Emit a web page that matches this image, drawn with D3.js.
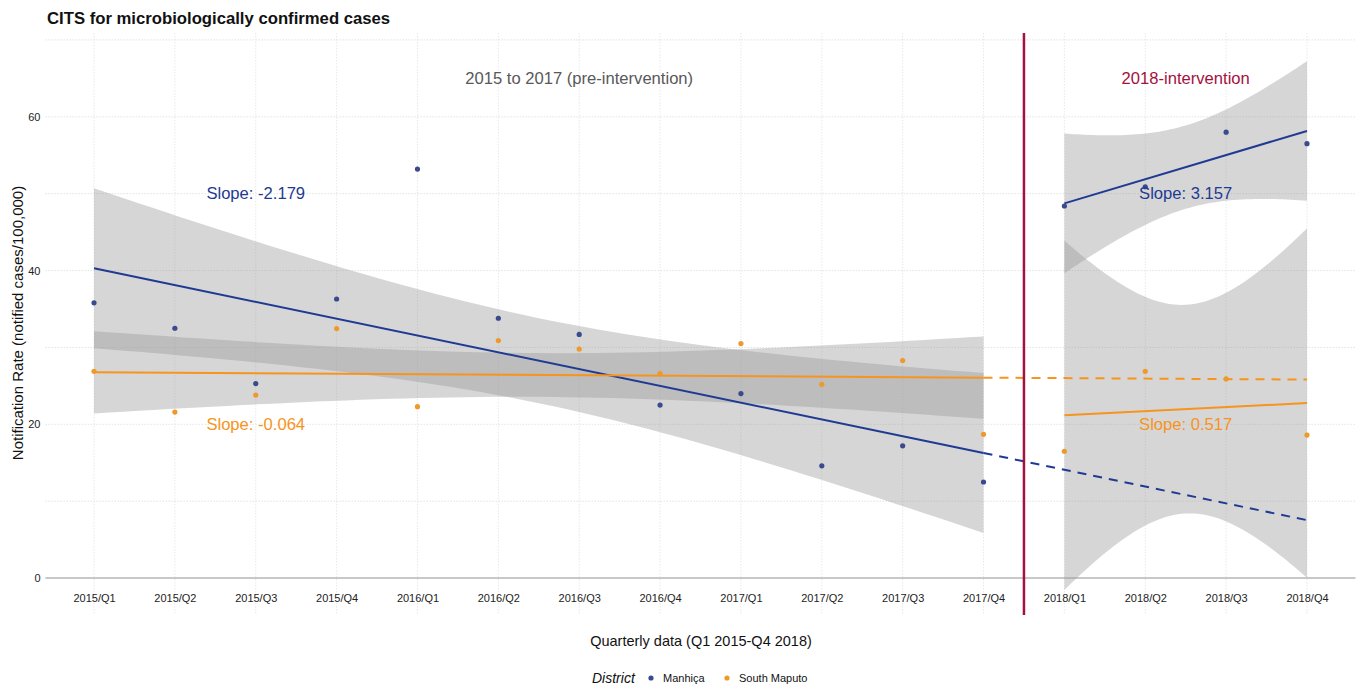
<!DOCTYPE html>
<html>
<head>
<meta charset="utf-8">
<script src="https://cdn.jsdelivr.net/npm/d3@7"></script>
<style>
  html, body { margin: 0; padding: 0; background: #fff; }
  svg { display: block; font-family: "Liberation Sans", Arial, Helvetica, sans-serif; }
</style>
</head>
<body>
<svg id="chart" width="1359" height="685"></svg>
<script>
// ---------- Data ----------
const quarters = ["2015/Q1","2015/Q2","2015/Q3","2015/Q4","2016/Q1","2016/Q2","2016/Q3","2016/Q4",
                  "2017/Q1","2017/Q2","2017/Q3","2017/Q4","2018/Q1","2018/Q2","2018/Q3","2018/Q4"];
const manhica     = [35.8, 32.5, 25.3, 36.3, 53.2, 33.8, 31.7, 22.5, 24.0, 14.6, 17.2, 12.5, 48.4, 50.9, 58.0, 56.5];
const southMaputo = [26.9, 21.6, 23.8, 32.45, 22.3, 30.9, 29.8, 26.6, 30.5, 25.2, 28.3, 18.7, 16.5, 26.9, 25.9, 18.6];
const districts = ["Manhiça", "South Maputo"];
const preSlopes  = [-2.179, -0.064];
const postSlopes = [3.157, 0.517];
const yTicks = [0, 20, 40, 60];
const yMinor = [10, 30, 50, 70];
const preEnd = 11;          // last pre-intervention index
const lineColors  = ["#1F3A93", "#F7941D"];
const pointColors = ["#3A4A8C", "#EE9A2A"];

// ---------- Layout ----------
const svg = d3.select("#chart");
const panel = {left: 45.5, right: 1355.5, top: 33, bottom: 615};

const x = d3.scalePoint().domain(quarters).range([panel.left, panel.right]).padding(0.6);
const xi = i => x(quarters[0]) + i * x.step();
const y = d3.scaleLinear().domain([-4.8, 70.9]).range([panel.bottom, panel.top]);

// ---------- Regression helpers (like geom_smooth(method = "lm")) ----------
const tTable = {1: 12.706, 2: 4.303, 3: 3.182, 4: 2.776, 5: 2.571, 6: 2.447, 7: 2.365, 8: 2.306, 9: 2.262, 10: 2.228};
function fitLM(xs, ys) {
  const n = xs.length, mx = d3.mean(xs), my = d3.mean(ys);
  let sxx = 0, sxy = 0;
  xs.forEach((v, k) => { sxx += (v - mx) ** 2; sxy += (v - mx) * (ys[k] - my); });
  const b = sxy / sxx, a = my - b * mx;
  let sse = 0;
  xs.forEach((v, k) => { sse += (ys[k] - (a + b * v)) ** 2; });
  const s = Math.sqrt(sse / (n - 2));
  const t = tTable[n - 2];
  return {a, b, pred: v => a + b * v,
          half: v => t * s * Math.sqrt(1 / n + (v - mx) ** 2 / sxx), x0: d3.min(xs), x1: d3.max(xs)};
}

const series = [manhica, southMaputo];
const preIdx = d3.range(0, preEnd + 1);
const postIdx = d3.range(preEnd + 1, quarters.length);
const fits = series.map(s => ({
  pre: fitLM(preIdx, preIdx.map(i => s[i])),
  post: fitLM(postIdx, postIdx.map(i => s[i]))
}));

// ---------- Grid ----------
const grid = svg.append("g");
grid.selectAll("line.h").data(yTicks.concat(yMinor)).join("line")
  .attr("x1", panel.left).attr("x2", panel.right)
  .attr("y1", d => y(d)).attr("y2", d => y(d))
  .attr("stroke", "#dcdcdc").attr("stroke-width", 0.8).attr("stroke-dasharray", "1.5,1.5");
grid.selectAll("line.v").data(quarters).join("line")
  .attr("x1", d => x(d)).attr("x2", d => x(d))
  .attr("y1", panel.top).attr("y2", panel.bottom)
  .attr("stroke", "#e2e2e2").attr("stroke-width", 0.8).attr("stroke-dasharray", "1.5,1.5");

// zero line
svg.append("line")
  .attr("x1", panel.left).attr("x2", panel.right)
  .attr("y1", y(0)).attr("y2", y(0))
  .attr("stroke", "#c8c8c8").attr("stroke-width", 2);

// ---------- Confidence bands ----------
const bandArea = d3.area().x(d => xi(d.v)).y0(d => y(d.lo)).y1(d => y(d.hi));
function bandData(f) {
  return d3.range(0, 61).map(k => {
    const v = f.x0 + (f.x1 - f.x0) * k / 60;
    return {v, lo: f.pred(v) - f.half(v), hi: f.pred(v) + f.half(v)};
  });
}
const bands = svg.append("g");
fits.forEach(f => {
  ["pre", "post"].forEach(seg => {
    bands.append("path").datum(bandData(f[seg])).attr("d", bandArea)
      .attr("fill", "#999999").attr("fill-opacity", 0.4);
  });
});

// ---------- Fit lines ----------
fits.forEach((f, si) => {
  ["pre", "post"].forEach(seg => {
    const m = f[seg];
    svg.append("line")
      .attr("x1", xi(m.x0)).attr("x2", xi(m.x1))
      .attr("y1", y(m.pred(m.x0))).attr("y2", y(m.pred(m.x1)))
      .attr("stroke", lineColors[si]).attr("stroke-width", 2);
  });
  // counterfactual extension of the pre-intervention trend
  const m = f.pre, last = quarters.length - 1;
  svg.append("line")
    .attr("x1", xi(preEnd)).attr("x2", xi(last))
    .attr("y1", y(m.pred(preEnd))).attr("y2", y(m.pred(last)))
    .attr("stroke", lineColors[si]).attr("stroke-width", 2)
    .attr("stroke-dasharray", "9,7");
});

// ---------- Intervention line ----------
svg.append("line")
  .attr("x1", xi(preEnd + 0.5)).attr("x2", xi(preEnd + 0.5))
  .attr("y1", panel.top).attr("y2", panel.bottom)
  .attr("stroke", "#A3123F").attr("stroke-width", 2.5);

// ---------- Points ----------
series.forEach((s, si) => {
  svg.append("g").selectAll("circle").data(s).join("circle")
    .attr("cx", (d, i) => x(quarters[i])).attr("cy", d => y(d))
    .attr("r", 2.6).attr("fill", pointColors[si]);
});

// ---------- Annotations ----------
const ann = svg.append("g").attr("font-size", 16.6).attr("text-anchor", "middle").attr("dominant-baseline", "central");
ann.append("text").attr("x", xi(6)).attr("y", y(65)).attr("fill", "#595959").text("2015 to 2017 (pre-intervention)");
ann.append("text").attr("x", xi(13.5)).attr("y", y(65)).attr("fill", "#A3123F").text("2018-intervention");
const slopeY = [50, 20];
preSlopes.forEach((v, si) => {
  ann.append("text").attr("x", xi(2)).attr("y", y(slopeY[si])).attr("fill", lineColors[si])
    .text("Slope: " + v.toFixed(3));
});
postSlopes.forEach((v, si) => {
  ann.append("text").attr("x", xi(13.5)).attr("y", y(slopeY[si])).attr("fill", lineColors[si])
    .text("Slope: " + v.toFixed(3));
});

// ---------- Axes ----------
const xAxis = svg.append("g").attr("transform", `translate(0, ${panel.bottom - 24})`)
  .call(d3.axisBottom(x).tickSize(0).tickPadding(3));
xAxis.select(".domain").remove();
xAxis.selectAll("text").attr("font-size", 11).attr("fill", "#222")
  .attr("font-family", "'Liberation Sans', Arial, sans-serif");

const yAxis = svg.append("g").attr("transform", `translate(${panel.left - 3}, 0)`)
  .call(d3.axisLeft(y).tickValues(yTicks).tickSize(0).tickPadding(2));
yAxis.select(".domain").remove();
yAxis.selectAll("text").attr("font-size", 11).attr("fill", "#222")
  .attr("font-family", "'Liberation Sans', Arial, sans-serif");

svg.append("text").attr("x", 701).attr("y", 646)
  .attr("text-anchor", "middle").attr("font-size", 14.5).attr("fill", "#111")
  .text("Quarterly data (Q1 2015-Q4 2018)");
svg.append("text").attr("transform", `translate(23, 323) rotate(-90)`)
  .attr("text-anchor", "middle").attr("font-size", 15).attr("fill", "#111")
  .text("Notification Rate (notified cases/100,000)");

// ---------- Title ----------
svg.append("text").attr("x", 47).attr("y", 24).attr("font-size", 16.7).attr("font-weight", "bold")
  .attr("fill", "#111").text("CITS for microbiologically confirmed cases");

// ---------- Legend ----------
const lg = svg.append("g").attr("transform", "translate(0, 678)");
lg.append("text").attr("x", 592).attr("y", 5).attr("font-size", 14).attr("font-style", "italic")
  .attr("fill", "#111").text("District");
const legX = [651, 727];
districts.forEach((d, i) => {
  lg.append("circle").attr("cx", legX[i]).attr("cy", 0).attr("r", 2.6).attr("fill", pointColors[i]);
  lg.append("text").attr("x", legX[i] + 12).attr("y", 4).attr("font-size", 11).attr("fill", "#111").text(d);
});
</script>
</body>
</html>
